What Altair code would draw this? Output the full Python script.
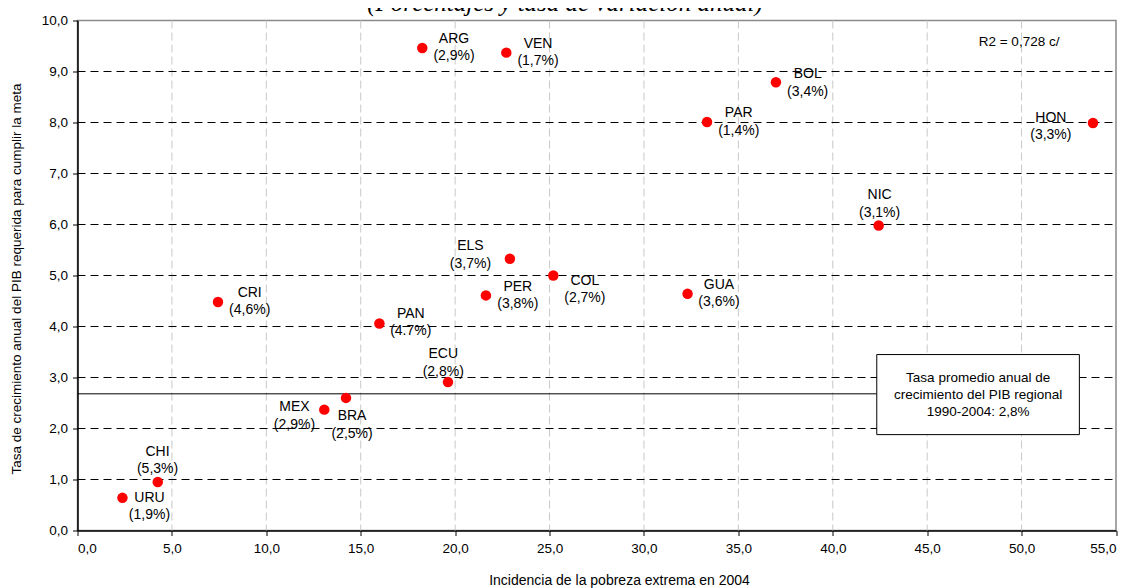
import altair as alt
import pandas as pd

# ---- data ----
paises = ["ARG", "VEN", "BOL", "PAR", "HON", "NIC", "ELS", "COL", "PER",
          "GUA", "CRI", "PAN", "ECU", "MEX", "BRA", "CHI", "URU"]
pobreza_extrema = [18.26, 22.71, 36.99, 33.34, 53.78, 42.43, 22.90, 25.20, 21.63,
                   32.31, 7.44, 15.99, 19.62, 13.07, 14.22, 4.25, 2.38]
tasa_requerida = [9.46, 9.37, 8.79, 8.01, 7.99, 5.98, 5.33, 5.00, 4.61,
                  4.64, 4.48, 4.06, 2.91, 2.37, 2.60, 0.95, 0.64]
crecimiento_hist = ["(2,9%)", "(1,7%)", "(3,4%)", "(1,4%)", "(3,3%)", "(3,1%)", "(3,7%)",
                    "(2,7%)", "(3,8%)", "(3,6%)", "(4,6%)", "(4.7%)", "(2,8%)", "(2,9%)",
                    "(2,5%)", "(5,3%)", "(1,9%)"]
# label anchor (centre of first label line), in data units
etiqueta_x = [19.94, 24.39, 38.67, 35.02, 51.55, 42.48, 20.81, 26.87, 23.32,
              33.97, 9.12, 17.65, 19.37, 11.49, 14.54, 4.24, 3.81]
etiqueta_y = [9.64, 9.54, 8.95, 8.18, 8.09, 6.57, 5.57, 4.90, 4.78,
              4.82, 4.66, 4.25, 3.46, 2.42, 2.24, 1.54, 0.64]

tasa_regional = 2.68
x_ticks = [0, 5, 10, 15, 20, 25, 30, 35, 40, 45, 50, 55]
y_ticks = [0, 1, 2, 3, 4, 5, 6, 7, 8, 9, 10]
r2_text = "R2 = 0,728 c/"
caja_lineas = ["Tasa promedio anual de", "crecimiento del PIB regional", "1990-2004: 2,8%"]
subtitulo = "(Porcentajes y tasa de variación anual)"
x_title = "Incidencia de la pobreza extrema en 2004"
y_title = "Tasa de crecimiento anual del PIB requerida para cumplir la meta"

W, H = 1038.5, 510
FONT = "Liberation Sans"

pts = pd.DataFrame({"x": pobreza_extrema, "y": tasa_requerida, "pais": paises,
                    "pct": crecimiento_hist, "lx": etiqueta_x, "ly": etiqueta_y})

xs = alt.Scale(domain=[0, 55], nice=False, zero=False)
ys = alt.Scale(domain=[0, 10], nice=False, zero=False)
lab_expr = "replace(format(datum.value, '.1f'), '.', ',')"

x_axis = alt.Axis(values=x_ticks, labelExpr=lab_expr, grid=False, tickSize=5,
                  tickColor="black", domainColor="black", domainWidth=1.5,
                  labelPadding=6, labelFont=FONT, labelFontSize=13.5, labelColor="black",
                  title=x_title, titleFont=FONT, titleFontSize=14, titleFontWeight="normal",
                  titleColor="black", titleX=541.5, titleY=50, titleBaseline="middle",
                  titleAnchor="middle", titleAlign="center")
y_axis = alt.Axis(values=y_ticks, labelExpr=lab_expr, grid=False, tickSize=5,
                  tickColor="black", domainColor="black", domainWidth=1.5,
                  labelPadding=5, labelFont=FONT, labelFontSize=13.5, labelColor="black",
                  title=y_title, titleFont=FONT, titleFontSize=13.5, titleFontWeight="normal",
                  titleColor="black", titleX=-61, titleY=258, titleBaseline="middle",
                  titleAlign="center", titleAngle=270)


def X(field):
    return alt.X(field, type="quantitative", scale=xs, axis=x_axis)


def Y(field):
    return alt.Y(field, type="quantitative", scale=ys, axis=y_axis)


vgrid = alt.Chart(pd.DataFrame({"x": x_ticks[1:-1]})).mark_rule(
    color="#c8c8c8", strokeDash=[8, 4], strokeWidth=1
).encode(x=X("x"), y=alt.value(0), y2=alt.value(H))

hgrid = alt.Chart(pd.DataFrame({"y": y_ticks[1:-1]})).mark_rule(
    color="black", strokeDash=[8, 5], strokeWidth=1
).encode(y=Y("y"), x=alt.value(0), x2=alt.value(W))

ref = alt.Chart(pd.DataFrame({"x": [0], "x2": [42.33], "y": [tasa_regional]})).mark_rule(
    color="black", strokeWidth=1
).encode(x=X("x"), x2="x2:Q", y=Y("y"))

caja = alt.Chart(pd.DataFrame({"x": [42.33], "x2": [53.06], "y": [3.45], "y2": [1.88]})).mark_rect(
    fill="white", stroke="black", strokeWidth=1
).encode(x=X("x"), x2="x2:Q", y=Y("y"), y2="y2:Q")

caja_txt = alt.Chart(pd.DataFrame({"x": [47.7] * 3, "y": [2.99, 2.66, 2.33], "t": caja_lineas})).mark_text(
    font=FONT, fontSize=13.5, color="black", align="center", baseline="middle"
).encode(x=X("x"), y=Y("y"), text="t:N")

puntos = alt.Chart(pts).mark_circle(color="#ff0000", opacity=1, size=110).encode(
    x=X("x"), y=Y("y"))

lab1 = alt.Chart(pts).mark_text(font=FONT, fontSize=14, color="black",
                                align="center", baseline="middle").encode(
    x=X("lx"), y=Y("ly"), text="pais:N")
lab2 = alt.Chart(pts).mark_text(font=FONT, fontSize=14, color="black",
                                align="center", baseline="middle", dy=17.5).encode(
    x=X("lx"), y=Y("ly"), text="pct:N")

r2 = alt.Chart(pd.DataFrame({"x": [47.73], "y": [9.57], "t": [r2_text]})).mark_text(
    font=FONT, fontSize=13.5, color="black", align="left", baseline="middle"
).encode(x=X("x"), y=Y("y"), text="t:N")

titulo = alt.Chart(pd.DataFrame({"t": [subtitulo]})).mark_text(
    font="Liberation Serif", fontStyle="italic", fontSize=25, color="black",
    align="center", baseline="alphabetic"
).encode(x=alt.value(487.5), y=alt.value(-9.5), text="t:N")

chart = alt.layer(vgrid, hgrid, ref, caja, caja_txt, puntos, lab1, lab2, r2, titulo).properties(
    width=W, height=H,
    autosize=alt.AutoSizeParams(type="none"),
    padding={"left": 69.5, "top": 12.5, "right": 6, "bottom": 65.5},
).configure_view(stroke="#8a8a8a", strokeWidth=1.5)

chart.save("out.html", embed_options={"renderer": "svg", "actions": False})
